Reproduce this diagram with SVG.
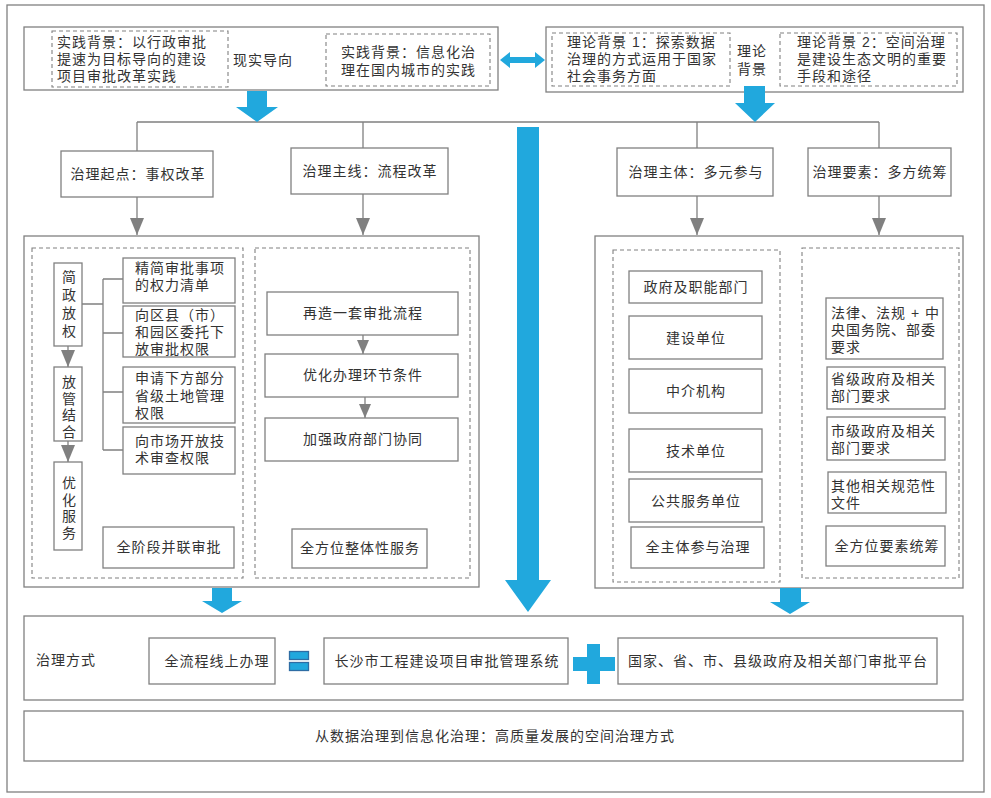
<svg xmlns="http://www.w3.org/2000/svg" width="991" height="798" viewBox="0 0 991 798">
<defs>
<style>
.b{fill:#fff;stroke:#808080;stroke-width:1.3}
.d{fill:none;stroke:#808080;stroke-width:1.1;stroke-dasharray:4 3}
.c{fill:none;stroke:#808080;stroke-width:1.3}
.t{font-family:"Liberation Sans","Noto Sans CJK SC","Noto Sans CJK TC",sans-serif;font-size:14px;letter-spacing:1px;fill:#333}
.m{text-anchor:middle}
.v{writing-mode:vertical-rl;text-orientation:upright;letter-spacing:2.5px}
.bl{fill:#21a8dd}
</style>
<marker id="ah" viewBox="0 0 17 14" refX="17" refY="7" markerWidth="17" markerHeight="14" markerUnits="userSpaceOnUse" orient="auto"><path d="M0,0 L17,7 L0,14 z" fill="#808080"/></marker>
<marker id="ah2" viewBox="0 0 14 12" refX="14" refY="6" markerWidth="14" markerHeight="12" markerUnits="userSpaceOnUse" orient="auto"><path d="M0,0 L14,6 L0,12 z" fill="#808080"/></marker>
</defs>
<rect x="7" y="5" width="977" height="787" fill="#fff" stroke="#808080" stroke-width="1.3"/>

<g id="top-left">
<rect class="b" x="24" y="27" width="474" height="63"/>
<rect class="d" x="52" y="31" width="176" height="56"/>
<text class="t" x="57" y="47">实践背景：以行政审批<tspan x="57" dy="17">提速为目标导向的建设</tspan><tspan x="57" dy="17">项目审批改革实践</tspan></text>
<text class="t" x="233" y="65">现实导向</text>
<rect class="d" x="326" y="34" width="164" height="52"/>
<text class="t" x="341" y="57">实践背景：信息化治<tspan x="341" dy="18">理在国内城市的实践</tspan></text>
</g>

<g id="top-right">
<rect class="b" x="546" y="27" width="417" height="65"/>
<rect class="d" x="552" y="33" width="178" height="53"/>
<text class="t" x="567" y="47">理论背景 1：探索数据<tspan x="567" dy="17">治理的方式运用于国家</tspan><tspan x="567" dy="17">社会事务方面</tspan></text>
<text class="t" x="737" y="56">理论<tspan x="737" dy="18">背景</tspan></text>
<rect class="d" x="780" y="33" width="177" height="53"/>
<text class="t" x="797" y="47">理论背景 2：空间治理<tspan x="797" dy="17">是建设生态文明的重要</tspan><tspan x="797" dy="17">手段和途径</tspan></text>
</g>

<g id="n-qidian"><rect class="b" x="61" y="151" width="152" height="46"/><text class="t m" x="138" y="179">治理起点：事权改革</text></g>
<g id="n-zhuxian"><rect class="b" x="291" y="148" width="157" height="46"/><text class="t m" x="370" y="176">治理主线：流程改革</text></g>
<g id="n-zhuti"><rect class="b" x="617" y="148" width="156" height="48"/><text class="t m" x="696" y="177">治理主体：多元参与</text></g>
<g id="n-yaosu"><rect class="b" x="808" y="148" width="143" height="48"/><text class="t m" x="880" y="177">治理要素：多方统筹</text></g>

<g id="left-panel">
<rect class="b" x="24" y="236" width="455" height="351"/>
<rect class="d" x="32" y="248" width="211" height="330"/>
<rect class="d" x="255" y="248" width="215" height="330"/>
</g>
<g id="n-jianzheng"><rect class="b" x="54" y="263" width="28" height="83"/>
<text class="t v" x="68" y="270" style="letter-spacing:4px">简政放权</text></g>
<g id="n-fangguan"><rect class="b" x="54" y="367" width="28" height="74"/>
<text class="t v" x="68" y="375">放管结合</text></g>
<g id="n-youhua"><rect class="b" x="54" y="462" width="28" height="88"/>
<text class="t v" x="68" y="476">优化服务</text></g>
<g id="n-a"><rect class="b" x="123" y="258" width="112" height="45"/>
<text class="t" x="135" y="273">精简审批事项<tspan x="135" dy="17">的权力清单</tspan></text></g>
<g id="n-b"><rect class="b" x="123" y="306" width="112" height="51"/>
<text class="t" x="135" y="320">向区县（市）<tspan x="135" dy="17">和园区委托下</tspan><tspan x="135" dy="17">放审批权限</tspan></text></g>
<g id="n-c"><rect class="b" x="123" y="367" width="112" height="56"/>
<text class="t" x="135" y="383">申请下方部分<tspan x="135" dy="18">省级土地管理</tspan><tspan x="135" dy="17">权限</tspan></text></g>
<g id="n-d"><rect class="b" x="123" y="427" width="112" height="47"/>
<text class="t" x="135" y="446">向市场开放技<tspan x="135" dy="17">术审查权限</tspan></text></g>
<g id="n-quanjieduan"><rect class="b" x="103" y="527" width="131" height="41"/><text class="t m" x="169" y="552">全阶段并联审批</text></g>

<g id="n-zaizao"><rect class="b" x="267" y="292" width="191" height="43"/><text class="t m" x="363" y="318">再造一套审批流程</text></g>
<g id="n-youhuabanli"><rect class="b" x="265" y="354" width="193" height="43"/><text class="t m" x="363" y="380">优化办理环节条件</text></g>
<g id="n-jiaqiang"><rect class="b" x="265" y="418" width="193" height="43"/><text class="t m" x="363" y="444">加强政府部门协同</text></g>
<g id="n-quanfangwei"><rect class="b" x="292" y="529" width="135" height="39"/><text class="t m" x="360" y="553">全方位整体性服务</text></g>

<g id="right-panel">
<rect class="b" x="595" y="236" width="368" height="352"/>
<rect class="d" x="613" y="250" width="167" height="332"/>
<rect class="d" x="802" y="248" width="157" height="330"/>
</g>
<g id="n-zhengfu"><rect class="b" x="629" y="271" width="133" height="32"/><text class="t m" x="696" y="292">政府及职能部门</text></g>
<g id="n-jianshe"><rect class="b" x="629" y="316" width="133" height="43"/><text class="t m" x="696" y="343">建设单位</text></g>
<g id="n-zhongjie"><rect class="b" x="629" y="369" width="133" height="44"/><text class="t m" x="696" y="396">中介机构</text></g>
<g id="n-jishu"><rect class="b" x="629" y="429" width="133" height="43"/><text class="t m" x="696" y="456">技术单位</text></g>
<g id="n-gonggong"><rect class="b" x="629" y="479" width="133" height="43"/><text class="t m" x="696" y="506">公共服务单位</text></g>
<g id="n-quanzhuti"><rect class="b" x="631" y="527" width="133" height="41"/><text class="t m" x="698" y="552">全主体参与治理</text></g>

<g id="n-falv"><rect class="b" x="826" y="298" width="117" height="61"/>
<text class="t" x="831" y="318">法律、法规 + 中<tspan x="831" dy="17">央国务院、部委</tspan><tspan x="831" dy="17">要求</tspan></text></g>
<g id="n-shengji"><rect class="b" x="827" y="367" width="118" height="42"/>
<text class="t" x="831" y="384">省级政府及相关<tspan x="831" dy="17">部门要求</tspan></text></g>
<g id="n-shiji"><rect class="b" x="827" y="417" width="118" height="43"/>
<text class="t" x="831" y="436">市级政府及相关<tspan x="831" dy="17">部门要求</tspan></text></g>
<g id="n-qita"><rect class="b" x="828" y="472" width="118" height="41"/>
<text class="t" x="831" y="491">其他相关规范性<tspan x="831" dy="17">文件</tspan></text></g>
<g id="n-quanyaosu"><rect class="b" x="826" y="526" width="119" height="40"/><text class="t m" x="887" y="551">全方位要素统筹</text></g>

<g id="bottom">
<rect class="b" x="24" y="616" width="939" height="84"/>
<text class="t" x="36" y="665">治理方式</text>
<g id="n-quanliucheng"><rect class="b" x="149" y="638" width="126" height="46"/><text class="t m" x="217" y="666">全流程线上办理</text></g>
<g id="n-changsha"><rect class="b" x="324" y="638" width="244" height="46"/><text class="t m" x="447" y="666">长沙市工程建设项目审批管理系统</text></g>
<g id="n-guojia"><rect class="b" x="618" y="638" width="319" height="46"/><text class="t m" x="778" y="666">国家、省、市、县级政府及相关部门审批平台</text></g>
<rect class="bl" x="289.5" y="651.5" width="19" height="8" stroke="#2e6da4" stroke-width="1.3"/>
<rect class="bl" x="289.5" y="662.5" width="19" height="8" stroke="#2e6da4" stroke-width="1.3"/>
<path class="bl" d="M587,644 H600 V657 H615 V671 H600 V684 H587 V671 H573 V657 H587 Z"/>
</g>
<g id="n-final"><rect class="b" x="24" y="711" width="939" height="50"/><text class="t m" x="495" y="741">从数据治理到信息化治理：高质量发展的空间治理方式</text></g>

<g id="connectors">
<path class="c" d="M137,122 H879 M137,122 V151 M363,122 V148 M697,122 V148 M879,122 V148"/>
<path class="c" d="M137,197 V235" marker-end="url(#ah)"/>
<path class="c" d="M363,194 V235" marker-end="url(#ah)"/>
<path class="c" d="M697,196 V235" marker-end="url(#ah)"/>
<path class="c" d="M879,196 V235" marker-end="url(#ah)"/>
<path class="c" d="M68,346 V367" marker-end="url(#ah)"/>
<path class="c" d="M68,441 V462" marker-end="url(#ah)"/>
<path class="c" d="M82,304 H103 M103,279 V450 M103,279 H123 M103,333 H123 M103,392 H123 M103,450 H123"/>
<path class="c" d="M363,335 V354" marker-end="url(#ah2)"/>
<path class="c" d="M365,397 V418" marker-end="url(#ah2)"/>
<path class="bl" d="M500,60 L510,52 V57 H535 V52 L545,60 L535,68 V63 H510 V68 Z"/>
<path class="bl" d="M247,91 H267 V107 H278 L257,122 L236,107 H247 Z"/>
<path class="bl" d="M744,86 H765 V103 H775 L755,122 L735,103 H744 Z"/>
<path class="bl" d="M517,127 H539 V580 H551 L528,612 L505,580 H517 Z"/>
<path class="bl" d="M212,588 H232 V601 H242 L222,613 L202,601 H212 Z"/>
<path class="bl" d="M780,588 H801 V602 H810 L790,614 L770,602 H780 Z"/>
</g>
</svg>
